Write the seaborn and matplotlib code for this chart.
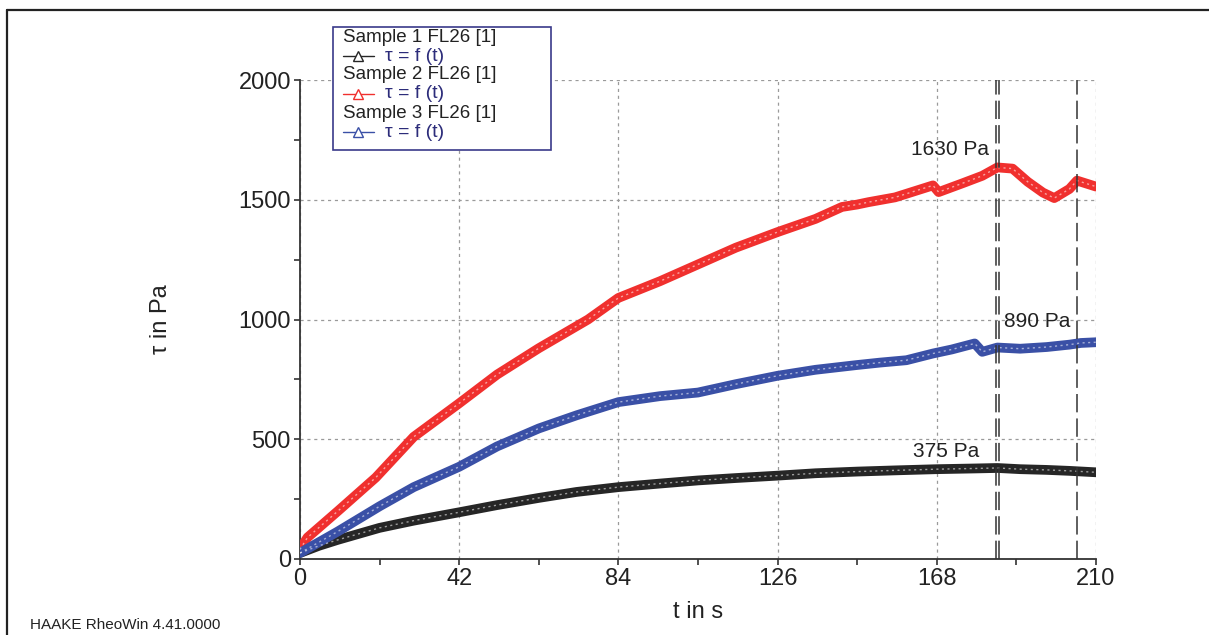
import pandas as pd
import numpy as np
import matplotlib.pyplot as plt
import seaborn as sns
from matplotlib.lines import Line2D
from matplotlib.patches import Rectangle

# values
t_s1 = [0, 5, 10, 21, 30, 42, 52, 63, 73, 84, 95, 105, 115, 126, 136, 147, 157, 168, 178, 184, 190, 197, 203, 210]
tau_s1 = [25, 55, 80, 130, 160, 195, 225, 255, 280, 300, 315, 328, 338, 348, 358, 365, 370, 375, 378, 380, 375, 372, 368, 362]

t_s2 = [0, 2, 10, 20, 30, 42, 52, 63, 76, 84, 95, 105, 115, 126, 136, 143, 147, 150, 157, 163, 167, 168.5, 175, 180,
        184, 188, 192, 196, 199, 203, 205, 209, 210]
tau_s2 = [40, 90, 200, 340, 510, 650, 770, 880, 1000, 1090, 1160, 1230, 1300, 1365, 1420, 1470, 1480, 1490, 1510,
          1540, 1560, 1532, 1570, 1600, 1635, 1630, 1575, 1530, 1507, 1545, 1580, 1560, 1555]

t_s3 = [0, 5, 10, 21, 30, 42, 52, 63, 73, 84, 95, 105, 115, 126, 136, 147, 153, 160, 167, 172, 178, 180, 184, 190,
        197, 203, 206, 210]
tau_s3 = [25, 70, 115, 220, 300, 385, 470, 545, 600, 655, 680, 695, 730, 765, 790, 810, 820, 830, 858, 875, 900, 865,
          883, 878, 885, 895, 902, 905]

samples = ['Sample 1 FL26 [1]', 'Sample 2 FL26 [1]', 'Sample 3 FL26 [1]']
colors = ['#262626', '#f0302e', '#3a50a6']
marker_t = [184, 205]
notes = ['1630 Pa', '890 Pa', '375 Pa']
note_t = [171.5, 194.5, 170.5]
note_tau = [1708, 990, 447]

df = pd.concat([
    pd.DataFrame({'t': t_s1, 'tau': tau_s1, 'sample': samples[0]}),
    pd.DataFrame({'t': t_s2, 'tau': tau_s2, 'sample': samples[1]}),
    pd.DataFrame({'t': t_s3, 'tau': tau_s3, 'sample': samples[2]}),
])

sns.set_style('white')
plt.rcParams['font.family'] = ['Liberation Sans', 'DejaVu Sans']

fig = plt.figure(figsize=(12.09, 6.35), dpi=100)
ax = fig.add_axes([0.2481, 0.1197, 0.6584, 0.7543])

pal = dict(zip(samples, colors))
sns.lineplot(data=df, x='t', y='tau', hue='sample', palette=pal, linewidth=7,
             sort=False, legend=False, ax=ax, zorder=3)
# light hatching on top of the thick bands
sns.lineplot(data=df, x='t', y='tau', hue='sample', palette={s: 'white' for s in samples},
             linewidth=1.0, sort=False, legend=False, ax=ax, zorder=4, alpha=0.55)
for ln in ax.lines[3:]:
    ln.set_dashes((1.5, 2.5))

ax.set_xlim(0, 210)
ax.set_ylim(0, 2000)
ax.set_xticks(np.arange(0, 211, 42))
ax.set_xticks(np.arange(21, 211, 42), minor=True)
ax.set_yticks(np.arange(0, 2001, 500))
ax.set_yticks(np.arange(250, 2000, 500), minor=True)
ax.tick_params(which='both', direction='out', color='#333333', width=1.2)
ax.tick_params(which='major', length=4.5, labelsize=17, labelcolor='#222222', pad=2)
ax.tick_params(which='minor', length=4)
ax.tick_params(axis='both', which='both', bottom=True, left=True)

ax.grid(True, which='major', color='#9a9a9a', linestyle=(0, (2.5, 3)), linewidth=0.9)
for s in ['top', 'right']:
    ax.spines[s].set_visible(False)
for s in ['left', 'bottom']:
    ax.spines[s].set_color('#333333')
    ax.spines[s].set_linewidth(1.3)

ax.set_xlabel('t in s', fontsize=17, color='#222222', labelpad=8)
ax.set_ylabel('τ in Pa', fontsize=17, color='#222222', labelpad=48)

for i, x in enumerate(marker_t):
    if i == 0:
        ax.axvline(x - 0.3, color='#333333', lw=1.1, dashes=(12, 4), zorder=5)
        ax.axvline(x + 0.4, color='#333333', lw=1.1, dashes=(12, 4), zorder=5)
    else:
        ax.axvline(x, color='#333333', lw=1.1, dashes=(12, 4), zorder=5)

for txt, x, y in zip(notes, note_t, note_tau):
    ax.text(x, y, txt, fontsize=15, color='#222222', ha='center', va='center', zorder=6)

# legend box as drawn by the instrument software
fig.add_artist(Rectangle((0.2754, 0.7638), 0.1803, 0.1937, transform=fig.transFigure,
                         facecolor='white', edgecolor='#3a3a8a', lw=1.2, zorder=10))
rows = [0.9417, 0.9118, 0.8819, 0.8520, 0.8220, 0.7921]
for i, (name, c) in enumerate(zip(samples, colors)):
    fig.text(0.2837, rows[2 * i], name, fontsize=13.5, color='#222222', va='center', zorder=11)
    yy = rows[2 * i + 1]
    fig.add_artist(Line2D([0.2837, 0.2965, 0.3093], [yy, yy, yy], transform=fig.transFigure, color=c,
                          lw=1.0, marker='^', markevery=[1], markersize=7, mfc='white', mec=c, zorder=11))
    fig.text(0.3184, yy, 'τ = f (t)', fontsize=14, color='#2c2c7a', va='center', zorder=11)

# outer frame of the print-out
fig.add_artist(Line2D([0.0058, 1.0], [0.9843, 0.9843], transform=fig.transFigure, color='#222222', lw=1.6))
fig.add_artist(Line2D([0.0058, 0.0058], [0.0, 0.9843], transform=fig.transFigure, color='#222222', lw=1.6))

fig.text(0.0248, 0.010, 'HAAKE RheoWin 4.41.0000', fontsize=11, color='#222222')

fig.savefig('out.png', dpi=100)
